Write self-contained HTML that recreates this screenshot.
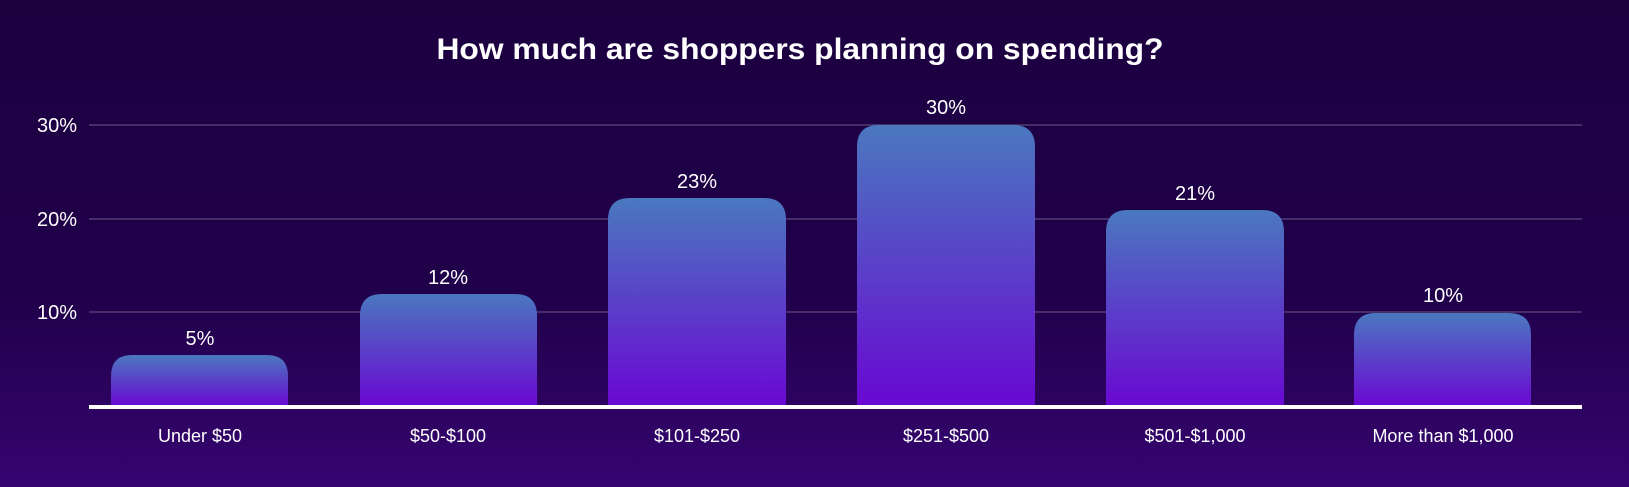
<!DOCTYPE html>
<html><head><meta charset="utf-8"><style>
html,body{margin:0;padding:0;width:1629px;height:487px;overflow:hidden}
</style></head><body>
<svg width="1629" height="487" viewBox="0 0 1629 487" xmlns="http://www.w3.org/2000/svg" font-family="Liberation Sans, sans-serif">
<defs>
<linearGradient id="bg" x1="0" y1="0" x2="0" y2="1">
<stop offset="0" stop-color="#1c0040"/><stop offset="0.6" stop-color="#20004a"/><stop offset="1" stop-color="#360470"/>
</linearGradient>
<linearGradient id="bar" x1="0" y1="0" x2="0" y2="1">
<stop offset="0" stop-color="#4a78bf"/><stop offset="1" stop-color="#6a08d2"/>
</linearGradient>
</defs>
<rect width="1629" height="487" fill="url(#bg)"/>
<text x="800" y="59" text-anchor="middle" font-size="30" font-weight="bold" fill="#fff" textLength="727" lengthAdjust="spacingAndGlyphs">How much are shoppers planning on spending?</text>
<g stroke="#5a4a7a" stroke-width="1.2">
<line x1="89" y1="125" x2="1582" y2="125"/>
<line x1="89" y1="219" x2="1582" y2="219"/>
<line x1="89" y1="312" x2="1582" y2="312"/>
</g>
<g fill="#fff" font-size="20" text-anchor="end">
<text x="77" y="132">30%</text>
<text x="77" y="226">20%</text>
<text x="77" y="319">10%</text>
</g>
<g fill="url(#bar)">
<path d="M111,406 V376 Q111,355 132,355 H267 Q288,355 288,376 V406 Z"/>
<path d="M360,406 V316 Q360,294 382,294 H515 Q537,294 537,316 V406 Z"/>
<path d="M608,406 V220 Q608,198 630,198 H764 Q786,198 786,220 V406 Z"/>
<path d="M857,406 V147 Q857,125 879,125 H1013 Q1035,125 1035,147 V406 Z"/>
<path d="M1106,406 V232 Q1106,210 1128,210 H1262 Q1284,210 1284,232 V406 Z"/>
<path d="M1354,406 V335 Q1354,313 1376,313 H1509 Q1531,313 1531,335 V406 Z"/>
</g>
<rect x="89" y="405" width="1493" height="4" fill="#fff"/>
<g fill="#fff" font-size="20" text-anchor="middle">
<text x="200" y="345">5%</text>
<text x="448" y="284">12%</text>
<text x="697" y="188">23%</text>
<text x="946" y="114">30%</text>
<text x="1195" y="200">21%</text>
<text x="1443" y="302">10%</text>
</g>
<g fill="#fff" font-size="18" text-anchor="middle">
<text x="200" y="442">Under $50</text>
<text x="448" y="442">$50-$100</text>
<text x="697" y="442">$101-$250</text>
<text x="946" y="442">$251-$500</text>
<text x="1195" y="442">$501-$1,000</text>
<text x="1443" y="442">More than $1,000</text>
</g>
</svg>
</body></html>
